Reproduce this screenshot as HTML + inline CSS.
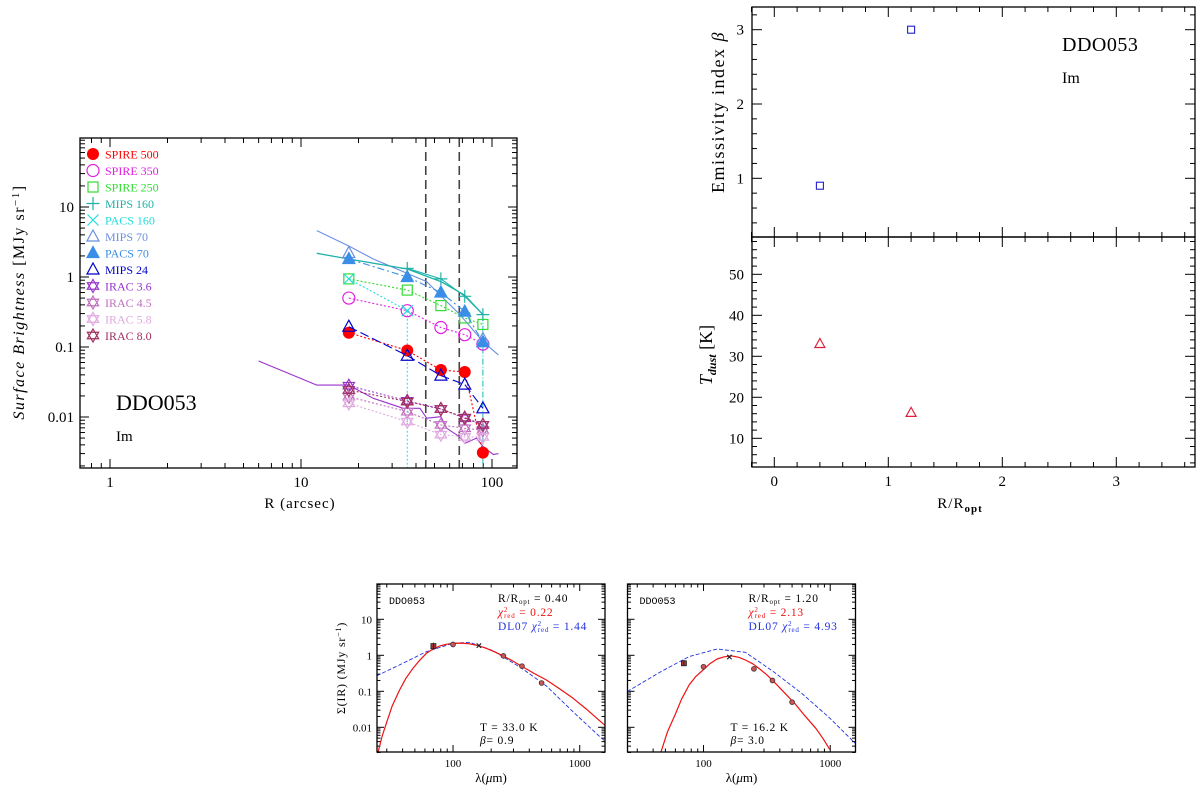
<!DOCTYPE html>
<html><head><meta charset="utf-8"><style>
html,body{margin:0;padding:0;background:#fff;}
svg{display:block;font-family:"Liberation Serif",serif;}
</style></head><body>
<svg id="chart" width="1200" height="788" viewBox="0 0 1200 788" xmlns="http://www.w3.org/2000/svg">
<defs>
<clipPath id="clipMain"><rect x="80" y="138" width="437" height="330"/></clipPath>
<clipPath id="clipS1"><rect x="377" y="584" width="228" height="168"/></clipPath>
<clipPath id="clipS2"><rect x="627.5" y="584" width="228" height="168"/></clipPath>
</defs>
</svg>
<script>
// ---------- Main panel data (surface brightness profiles) ----------
const radii = [17.8, 36, 54, 72, 89.6];
const spire500 = [0.16, 0.089, 0.047, 0.044, 0.0031];
const spire350 = [0.50, 0.33, 0.19, 0.15, 0.11];
const spire250 = [0.94, 0.65, 0.39, 0.26, 0.21];
const mips160R = [36, 54, 72, 89.6];
const mips160 = [1.33, 0.94, 0.53, 0.29];
const pacs160R = [17.8, 36];
const pacs160 = [0.94, 0.33];
const mips70R = [17.8, 89.6];
const mips70 = [2.2, 0.13];
const pacs70 = [1.81, 1.0, 0.60, 0.32, 0.117];
const mips24 = [0.195, 0.075, 0.039, 0.029, 0.0133];
const irac36 = [0.028, 0.017, 0.013, 0.0096, 0.0077];
const irac45 = [0.0195, 0.0119, 0.0077, 0.0069, 0.0065];
const irac58 = [0.0157, 0.0086, 0.0056, 0.0052, 0.0052];
const irac80 = [0.0243, 0.0166, 0.013, 0.0098, 0.0077];
const curve160R = [12.1, 17.8, 36, 54, 72, 89.6];
const curve160V = [2.18, 1.81, 1.30, 0.86, 0.55, 0.29];
const curve70R = [12.1, 17.8, 23.9, 45.5, 67.9, 89.6, 108];
const curve70V = [4.6, 2.77, 1.81, 0.86, 0.29, 0.12, 0.077];
const curve36R = [6.0, 12.1, 17.8, 23.9, 34.3, 42, 45.5, 54, 58, 67.9, 72, 83, 89.6, 101.6, 108];
const curve36V = [0.063, 0.0286, 0.0286, 0.0185, 0.0133, 0.0133, 0.0096, 0.0101, 0.0069, 0.0052, 0.0042, 0.005, 0.0038, 0.0029, 0.0030];
const vlinesR = [45, 67.4];
const legendLabels = ["SPIRE 500","SPIRE 350","SPIRE 250","MIPS 160","PACS 160","MIPS 70","PACS 70","MIPS 24","IRAC 3.6","IRAC 4.5","IRAC 5.8","IRAC 8.0"];
const mainYTicks = [10, 1, 0.1, 0.01];
const mainYTickLabels = ["10", "1", "0.1", "0.01"];
const mainXTicks = [1, 10, 100];
const mainXTickLabels = ["1", "10", "100"];

// ---------- Right panels ----------
const rRatio = [0.4, 1.2];
const betaVals = [0.9, 3.0];
const tdustVals = [33.0, 16.2];
const rxTicks = [0, 1, 2, 3];
const betaTicks = [1, 2, 3];
const tTicks = [10, 20, 30, 40, 50];

// ---------- SED panels ----------
const sedLam = [70, 100, 160, 250, 350, 500];
const sed1 = [1.8, 2.0, 1.85, 0.96, 0.50, 0.17];
const sed2 = [0.6, 0.48, 0.9, 0.42, 0.2, 0.05];
const fit1Lam = [25.6, 27.5, 29.8, 33, 37.9, 42.5, 48.3, 54.5, 61.6, 69, 78.5, 88, 100, 115, 135, 158, 183, 215, 249, 295, 347, 440, 546, 700, 886, 1130, 1439, 1574];
const fit1V = [0.002, 0.0055, 0.013, 0.038, 0.109, 0.23, 0.435, 0.72, 1.14, 1.48, 1.81, 2.02, 2.15, 2.18, 2.08, 1.85, 1.56, 1.23, 0.96, 0.70, 0.50, 0.31, 0.206, 0.115, 0.064, 0.032, 0.0152, 0.0115];
const dl1Lam = [25, 37.9, 61.6, 100, 135, 207, 347, 546, 886, 1439, 1574];
const dl1V = [0.27, 0.54, 1.26, 2.15, 2.3, 1.34, 0.44, 0.14, 0.027, 0.0055, 0.0042];
const fit2Lam = [46, 52, 59.6, 67, 77, 87, 99, 112, 128, 146, 166, 190, 214, 245, 277, 315, 357, 430, 524, 630, 769, 880, 993];
const fit2V = [0.002, 0.0075, 0.022, 0.06, 0.15, 0.26, 0.39, 0.58, 0.79, 0.91, 0.96, 0.88, 0.74, 0.58, 0.42, 0.29, 0.19, 0.095, 0.046, 0.021, 0.0094, 0.0048, 0.0024];
const dl2Lam = [25, 46, 77, 128, 214, 357, 596, 993, 1626];
const dl2V = [0.098, 0.35, 0.92, 1.5, 1.21, 0.35, 0.088, 0.018, 0.0032];
const sedYTicks = [10, 1, 0.1, 0.01];
const sedYTickLabels = ["10", "1", "0.1", "0.01"];
const sedXTicks = [100, 1000];
const sedXTickLabels = ["100", "1000"];

const NS = "http://www.w3.org/2000/svg";
const svg = document.getElementById('chart');
function mk(tag, attrs, parent) {
  const e = document.createElementNS(NS, tag);
  for (const k in attrs) e.setAttribute(k, attrs[k]);
  (parent || svg).appendChild(e);
  return e;
}
function txt(s, x, y, attrs, parent) {
  const t = mk('text', Object.assign({x: x, y: y}, attrs), parent);
  t.textContent = s;
  return t;
}
const L = Math.log10;

// ---------- axis functions ----------
const mx = R => 110 + 191 * L(R);
const my = v => 277 - 70 * L(v);
const rx = r => 774.3 + 114 * r;
const by = b => 178.3 - 74.3 * (b - 1);
const ty = t => 438.3 - 4.1 * (t - 10);
const sx = (lam, x0) => x0 + 126.7 * (L(lam) - 1.4);
const sy = v => 619.3 - 36 * (L(v) - 1);

function frame(x0, y0, x1, y1, name) {
  const r = mk('rect', {x: x0, y: y0, width: x1 - x0, height: y1 - y0, fill: 'none', stroke: '#000', 'stroke-width': 1.3});
  
  
}
function logTicks(lo, hi) {
  const out = [];
  for (let d = Math.floor(L(lo)) - 1; d <= Math.ceil(L(hi)); d++) {
    for (let m = 1; m <= 9; m++) {
      const v = m * Math.pow(10, d);
      if (v >= lo && v <= hi) out.push([v, m === 1]);
    }
  }
  return out;
}
function xTicks(g, list, fx, y0, y1, big, small) {
  list.forEach(([v, maj]) => {
    const x = fx(v), len = maj ? big : small;
    mk('line', {x1: x, x2: x, y1: y1, y2: y1 - len, stroke: '#000', 'stroke-width': 1}, g);
    mk('line', {x1: x, x2: x, y1: y0, y2: y0 + len, stroke: '#000', 'stroke-width': 1}, g);
  });
}
function yTicks(g, list, fy, x0, x1, big, small) {
  list.forEach(([v, maj]) => {
    const y = fy(v), len = maj ? big : small;
    mk('line', {x1: x0, x2: x0 + len, y1: y, y2: y, stroke: '#000', 'stroke-width': 1}, g);
    mk('line', {x1: x1, x2: x1 - len, y1: y, y2: y, stroke: '#000', 'stroke-width': 1}, g);
  });
}

function marker(g, type, cx, cy, color, s) {
  s = s || 5.5;
  let e;
  if (type === 'fcircle') e = mk('circle', {cx: cx, cy: cy, r: s + 0.5, fill: color}, g);
  else if (type === 'ocircle') e = mk('circle', {cx: cx, cy: cy, r: s + 0.5, fill: 'none', stroke: color, 'stroke-width': 1.2}, g);
  else if (type === 'square') e = mk('rect', {x: cx - s + 0.5, y: cy - s + 0.5, width: 2 * s - 1, height: 2 * s - 1, fill: 'none', stroke: color, 'stroke-width': 1.2}, g);
  else if (type === 'plus') e = mk('path', {d: `M${cx - s - 1},${cy}H${cx + s + 1}M${cx},${cy - s - 1}V${cy + s + 1}`, stroke: color, 'stroke-width': 1.2, fill: 'none'}, g);
  else if (type === 'cross') e = mk('path', {d: `M${cx - s},${cy - s}L${cx + s},${cy + s}M${cx - s},${cy + s}L${cx + s},${cy - s}`, stroke: color, 'stroke-width': 1.2, fill: 'none'}, g);
  else if (type === 'otri' || type === 'ftri') e = mk('path', {d: `M${cx},${cy - s - 1}L${cx + s + 0.5},${cy + s - 1}L${cx - s - 0.5},${cy + s - 1}Z`, fill: type === 'ftri' ? color : 'none', stroke: color, 'stroke-width': 1.2}, g);
  else if (type === 'star') {
    const a = s + 1, b = (s + 1) * 0.5, h = (s + 1) * 0.87;
    e = mk('path', {d: `M${cx},${cy - a}L${cx + h},${cy + b}L${cx - h},${cy + b}Z M${cx},${cy + a}L${cx + h},${cy - b}L${cx - h},${cy - b}Z`, fill: 'none', stroke: color, 'stroke-width': 1.2}, g);
  }
  return e;
}
function polyline(g, xs, ys, fx, fy, color, dash, w) {
  const pts = xs.map((x, i) => fx(x).toFixed(1) + ',' + fy(ys[i]).toFixed(1)).join(' ');
  return mk('polyline', {points: pts, fill: 'none', stroke: color, 'stroke-width': w || 1.1, 'stroke-dasharray': dash || 'none', 'stroke-linejoin': 'round'}, g);
}

// ================= MAIN PANEL =================
const main = mk('g', {});


const mticks = mk('g', {}, main);
xTicks(mticks, logTicks(0.71, 134), mx, 138, 468, 9, 5);
yTicks(mticks, logTicks(0.0019, 96), my, 80, 517, 9, 5);
frame(80, 138, 517, 468, 'main-plot-frame');
mainXTicks.forEach((v, i) => {
  const t = txt(mainXTickLabels[i], mx(v), 487, {'font-size': 15, 'text-anchor': 'middle'}, main);
  
  
});
mainYTicks.forEach((v, i) => {
  const t = txt(mainYTickLabels[i], 74, my(v) + 5, {'font-size': 15, 'text-anchor': 'end'}, main);
  
  
});
const mxl = txt('R (arcsec)', 300, 508, {'font-size': 15, 'text-anchor': 'middle', 'letter-spacing': 1}, main);


const myl = mk('text', {x: 0, y: 0, 'font-size': 16, 'text-anchor': 'middle', 'letter-spacing': 1.5, transform: 'translate(24,302) rotate(-90)'}, main);
myl.innerHTML = '<tspan font-style="italic">Surface Brightness</tspan> [MJy sr<tspan dy="-5" font-size="11">−1</tspan><tspan dy="5">]</tspan>';



const plotArea = mk('g', {'clip-path': 'url(#clipMain)'}, main);
vlinesR.forEach(r => {
  const l = mk('line', {x1: mx(r), x2: mx(r), y1: 138, y2: 468, stroke: '#444', 'stroke-width': 1.6, 'stroke-dasharray': '9,5'}, plotArea);
  
  
});
const dl160 = mk('line', {x1: mx(pacs160R[1]), x2: mx(pacs160R[1]), y1: my(pacs160[1]), y2: 468, stroke: '#2dd', 'stroke-width': 1, 'stroke-dasharray': '2,2'}, plotArea);


const dlm160 = mk('line', {x1: mx(mips160R[3]), x2: mx(mips160R[3]), y1: my(mips160[3]), y2: 468, stroke: '#1bb', 'stroke-width': 1, 'stroke-dasharray': '6,2,1,2'}, plotArea);



let c;
c = polyline(plotArea, curve70R, curve70V, mx, my, '#6a8fe0', null, 1.1);


c = polyline(plotArea, curve160R, curve160V, mx, my, '#20b2aa', null, 1.3);


c = polyline(plotArea, curve36R, curve36V, mx, my, '#9933cc', null, 1.1);



const series = [
  {name: 'spire500', R: radii, v: spire500, type: 'fcircle', color: '#ff0000', dash: '2,2'},
  {name: 'spire350', R: radii, v: spire350, type: 'ocircle', color: '#e020e0', dash: '2,2'},
  {name: 'spire250', R: radii, v: spire250, type: 'square', color: '#33dd33', dash: '2,2'},
  {name: 'mips160', R: mips160R, v: mips160, type: 'plus', color: '#20b2aa', dash: null},
  {name: 'pacs160', R: pacs160R, v: pacs160, type: 'cross', color: '#22dddd', dash: '2,2'},
  {name: 'mips70', R: mips70R, v: mips70, type: 'otri', color: '#6a8fe0', dash: null, noLine: true},
  {name: 'pacs70', R: radii, v: pacs70, type: 'ftri', color: '#3a8ee8', dash: '7,3,2,3'},
  {name: 'mips24', R: radii, v: mips24, type: 'otri', color: '#0000cc', dash: '9,4'},
  {name: 'irac36', R: radii, v: irac36, type: 'star', color: '#9933cc', dash: '2,2'},
  {name: 'irac45', R: radii, v: irac45, type: 'star', color: '#c070c0', dash: '2,2'},
  {name: 'irac58', R: radii, v: irac58, type: 'star', color: '#e0a8e0', dash: '2,2'},
  {name: 'irac80', R: radii, v: irac80, type: 'star', color: '#a03060', dash: '2,2'}
];
series.forEach(s => {
  const g = mk('g', {}, plotArea);
  
  
  if (!s.noLine) {
    const pl = polyline(g, s.R, s.v, mx, my, s.color, s.dash, 1.1);
    
    
  }
  s.R.forEach((r, i) => {
    const m = marker(g, s.type, mx(r), my(s.v[i]), s.color, 5.5);
    
    
  });
});

const leg = mk('g', {}, main);


series.forEach((s, i) => {
  const y = 154 + 16.5 * i;
  const e = mk('g', {}, leg);
  
  
  marker(e, s.type, 93, y, s.color, 5.5);
  txt(legendLabels[i], 105, y + 4.5, {'font-size': 12, fill: s.color}, e);
});
let t = txt('DDO053', 116, 410, {'font-size': 22}, main);


t = txt('Im', 116, 441, {'font-size': 15}, main);



// ================= RIGHT PANELS =================
const rp = mk('g', {});


const rt = mk('g', {}, rp);
const rminor = [];
for (let k = -1; k <= 18; k++) rminor.push([k * 0.2, k % 5 === 0]);
const rminorF = rminor.filter(d => d[0] >= -0.2 && d[0] <= 3.69);
[[7, 237], [237, 467]].forEach(([y0, y1]) => xTicks(rt, rminorF, rx, y0, y1, 10, 5));
const bminor = [];
for (let k = 1; k <= 16; k++) bminor.push([k * 0.2, k % 5 === 0]);
yTicks(rt, bminor.filter(d => by(d[0]) > 7 && by(d[0]) < 237), by, 752, 1195, 10, 5);
const tminor = [];
for (let k = 2; k <= 29; k++) tminor.push([k * 2, k % 5 === 0]);
yTicks(rt, tminor.filter(d => ty(d[0]) > 237 && ty(d[0]) < 467), ty, 752, 1195, 10, 5);
frame(752, 7, 1195, 237, 'beta-plot-frame');
frame(752, 237, 1195, 467, 'tdust-plot-frame');
rxTicks.forEach(v => {
  const l = txt(String(v), rx(v), 486, {'font-size': 15, 'text-anchor': 'middle'}, rp);
  
  
});
betaTicks.forEach(v => {
  const l = txt(String(v), 744, by(v) + 5, {'font-size': 15, 'text-anchor': 'end'}, rp);
  
  
});
tTicks.forEach(v => {
  const l = txt(String(v), 744, ty(v) + 5, {'font-size': 15, 'text-anchor': 'end'}, rp);
  
  
});
t = mk('text', {x: 0, y: 0, 'font-size': 18, 'text-anchor': 'middle', 'letter-spacing': 1.5, transform: 'translate(724,112) rotate(-90)'}, rp);
t.innerHTML = 'Emissivity index <tspan font-style="italic">β</tspan>';


t = mk('text', {x: 0, y: 0, 'font-size': 18, 'text-anchor': 'middle', transform: 'translate(712,355) rotate(-90)'}, rp);
t.innerHTML = '<tspan font-style="italic">T</tspan><tspan dy="4" font-size="12" font-style="italic" font-weight="bold">dust</tspan><tspan dy="-4">  [K]</tspan>';


t = mk('text', {x: 960, y: 508, 'font-size': 15, 'text-anchor': 'middle', 'letter-spacing': 1}, rp);
t.innerHTML = 'R/R<tspan dy="4" font-size="11" font-weight="bold">opt</tspan>';


t = txt('DDO053', 1062, 51, {'font-size': 20, 'letter-spacing': 0.5}, rp);


t = txt('Im', 1062, 83, {'font-size': 16}, rp);


rRatio.forEach((r, i) => {
  const m = mk('rect', {x: rx(r) - 3.5, y: by(betaVals[i]) - 3.5, width: 7, height: 7, fill: 'none', stroke: '#2020d0', 'stroke-width': 1.1}, rp);
  
  
  const tr = marker(rp, 'otri', rx(r), ty(tdustVals[i]), '#e0203a', 4.5);
  
  
});

// ================= SED PANELS =================
const sedPanels = [
  {x0: 377, clip: 'clipS1', obs: sed1, fL: fit1Lam, fV: fit1V, dL: dl1Lam, dV: dl1V, r: '0.40', chi: '0.22', dchi: '1.44', T: '33.0', b: '0.9'},
  {x0: 627.5, clip: 'clipS2', obs: sed2, fL: fit2Lam, fV: fit2V, dL: dl2Lam, dV: dl2V, r: '1.20', chi: '2.13', dchi: '4.93', T: '16.2', b: '3.0'}
];
sedPanels.forEach((p, pi) => {
  const g = mk('g', {});
  
  
  const fx = lam => sx(lam, p.x0);
  const tk = mk('g', {}, g);
  xTicks(tk, logTicks(25.2, 1580), fx, 584, 752, 7, 3.5);
  yTicks(tk, logTicks(0.002, 96), sy, p.x0, p.x0 + 228, 7, 3.5);
  frame(p.x0, 584, p.x0 + 228, 752, 'sed-plot-frame');
  sedXTicks.forEach((v, i) => {
    const l = txt(sedXTickLabels[i], fx(v), 767, {'font-size': 11, 'text-anchor': 'middle'}, g);
    
    
  });
  if (pi === 0) {
    sedYTicks.forEach((v, i) => {
      const l = txt(sedYTickLabels[i], p.x0 - 5, sy(v) + 4, {'font-size': 11, 'text-anchor': 'end'}, g);
      
      
    });
    const yl = mk('text', {x: 0, y: 0, 'font-size': 12, 'letter-spacing': 0.8, 'text-anchor': 'middle', transform: 'translate(345,668) rotate(-90)'}, g);
    yl.innerHTML = 'Σ(IR) (MJy sr<tspan dy="-4" font-size="8">−1</tspan><tspan dy="4">)</tspan>';
    
    
  }
  const xl = mk('text', {x: p.x0 + 114, y: 782, 'font-size': 13, 'text-anchor': 'middle'}, g);
  xl.innerHTML = 'λ(<tspan font-style="italic">μ</tspan>m)';
  
  
  const area = mk('g', {'clip-path': 'url(#' + p.clip + ')'}, g);
  const dl = polyline(area, p.dL, p.dV, fx, sy, '#2233dd', '4,2', 0.9);
  
  
  const fit = polyline(area, p.fL, p.fV, fx, sy, '#ee1111', null, 1.2);
  
  
  sedLam.forEach((lam, i) => {
    const x = fx(lam), y = sy(p.obs[i]);
    let m;
    if (lam === 160) m = marker(area, 'cross', x, y, '#222', 2.2);
    else if (lam === 70) m = mk('rect', {x: x - 2.5, y: y - 2.5, width: 5, height: 5, fill: '#a33', stroke: '#222', 'stroke-width': 0.8}, area);
    else m = mk('circle', {cx: x, cy: y, r: 2.4, fill: '#c55', stroke: '#333', 'stroke-width': 0.8}, area);
    
    
  });
  const eb = mk('line', {x1: fx(70), x2: fx(70), y1: sy(p.obs[0] * 1.25), y2: sy(p.obs[0] * 0.85), stroke: '#222', 'stroke-width': 0.9}, area);
  
  
  let s = txt('DDO053', p.x0 + 12, 604, {'font-size': 10, 'font-family': '"Liberation Mono",monospace'}, g);
  
  
  s = mk('text', {x: p.x0 + 121, y: 602, 'font-size': 11.5, 'letter-spacing': 0.8}, g);
  s.innerHTML = 'R/R<tspan dy="2" font-size="7">opt</tspan><tspan dy="-2"> = ' + p.r + '</tspan>';
  
  
  s = mk('text', {x: p.x0 + 121, y: 616, 'font-size': 11.5, 'letter-spacing': 0.8, fill: '#ee1111'}, g);
  s.innerHTML = '<tspan font-style="italic">χ</tspan><tspan dy="-4" font-size="7">2</tspan><tspan dy="6" dx="-4" font-size="7">red</tspan><tspan dy="-2"> = ' + p.chi + '</tspan>';
  
  
  s = mk('text', {x: p.x0 + 121, y: 630, 'font-size': 11.5, 'letter-spacing': 0.8, fill: '#2233dd'}, g);
  s.innerHTML = 'DL07 <tspan font-style="italic">χ</tspan><tspan dy="-4" font-size="7">2</tspan><tspan dy="6" dx="-4" font-size="7">red</tspan><tspan dy="-2"> = ' + p.dchi + '</tspan>';
  
  
  s = txt('T = ' + p.T + ' K', p.x0 + 103, 731, {'font-size': 11.5, 'letter-spacing': 0.8}, g);
  
  
  s = mk('text', {x: p.x0 + 103, y: 744, 'font-size': 11.5, 'letter-spacing': 0.8}, g);
  s.innerHTML = '<tspan font-style="italic">β</tspan>= ' + p.b;
  
  
});
</script>
</body></html>
